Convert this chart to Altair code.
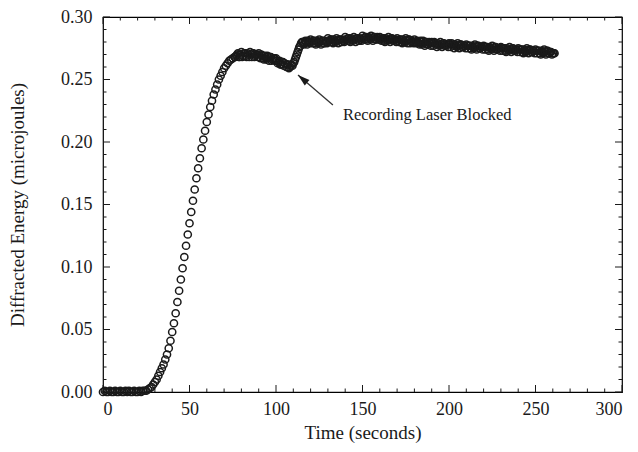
import altair as alt
import pandas as pd

# ---- data (one sample per second) ----
time_s = list(range(0, 262))
energy = [
    0.000, 0.001, 0.000, 0.000, 0.001, 0.000, 0.000, 0.001, 0.000, 0.000,
    0.001, 0.000, 0.000, 0.001, 0.000, 0.001, 0.000, 0.000, 0.001, 0.000,
    0.000, 0.001, 0.000, 0.001, 0.001, 0.001, 0.002, 0.003, 0.004, 0.006,
    0.008, 0.010, 0.013, 0.016, 0.019, 0.022, 0.026, 0.030, 0.035, 0.041,
    0.048, 0.055, 0.063, 0.072, 0.081, 0.090, 0.099, 0.108, 0.117, 0.126,
    0.135, 0.144, 0.153, 0.162, 0.171, 0.179, 0.187, 0.195, 0.202, 0.209,
    0.216, 0.222, 0.228, 0.233, 0.238, 0.242, 0.246, 0.250, 0.253, 0.256,
    0.259, 0.261, 0.263, 0.265, 0.266, 0.267, 0.268, 0.269, 0.271, 0.268,
    0.272, 0.269, 0.271, 0.268, 0.270, 0.272, 0.268, 0.271, 0.269, 0.270,
    0.271, 0.267, 0.269, 0.266, 0.268, 0.269, 0.265, 0.268, 0.266, 0.267,
    0.267, 0.263, 0.265, 0.262, 0.264, 0.263, 0.260, 0.262, 0.260, 0.262,
    0.263, 0.266, 0.270, 0.274, 0.277, 0.280, 0.278, 0.281, 0.278, 0.280,
    0.282, 0.279, 0.281, 0.278, 0.280, 0.282, 0.278, 0.281, 0.279, 0.280,
    0.283, 0.280, 0.282, 0.279, 0.281, 0.283, 0.279, 0.282, 0.280, 0.281,
    0.284, 0.281, 0.283, 0.280, 0.282, 0.284, 0.280, 0.283, 0.281, 0.282,
    0.285, 0.282, 0.284, 0.281, 0.283, 0.285, 0.281, 0.284, 0.282, 0.283,
    0.284, 0.281, 0.283, 0.280, 0.282, 0.284, 0.280, 0.283, 0.281, 0.282,
    0.283, 0.280, 0.282, 0.279, 0.281, 0.283, 0.279, 0.282, 0.280, 0.280,
    0.282, 0.279, 0.280, 0.278, 0.280, 0.281, 0.277, 0.280, 0.278, 0.279,
    0.280, 0.277, 0.279, 0.276, 0.278, 0.280, 0.276, 0.279, 0.277, 0.278,
    0.279, 0.276, 0.278, 0.275, 0.277, 0.279, 0.275, 0.278, 0.276, 0.277,
    0.278, 0.275, 0.277, 0.274, 0.276, 0.278, 0.274, 0.277, 0.275, 0.276,
    0.277, 0.274, 0.276, 0.273, 0.275, 0.277, 0.273, 0.276, 0.274, 0.275,
    0.276, 0.273, 0.275, 0.272, 0.274, 0.276, 0.272, 0.275, 0.273, 0.274,
    0.275, 0.272, 0.274, 0.271, 0.273, 0.275, 0.271, 0.274, 0.272, 0.273,
    0.274, 0.271, 0.273, 0.270, 0.272, 0.274, 0.270, 0.273, 0.271, 0.272,
    0.271, 0.271,
]
assert len(time_s) == len(energy)

# denser readings in the plateau band (half-second offsets, 76.5 ... 260.5 s)
time_half = [s + 0.5 for s in range(76, 261)]
energy_half = [
    0.268, 0.270, 0.268, 0.270,
    0.268, 0.271, 0.269, 0.271, 0.268, 0.270, 0.271, 0.268, 0.270, 0.268,
    0.268, 0.270, 0.267, 0.269, 0.266, 0.267, 0.268, 0.265, 0.267, 0.265,
    0.265, 0.264, 0.262, 0.264, 0.261, 0.262, 0.262, 0.259, 0.261, 0.261,
    0.264, 0.268, 0.272, 0.276, 0.279, 0.280, 0.279, 0.280, 0.281, 0.279,
    0.280, 0.281, 0.279, 0.281, 0.279, 0.280, 0.281, 0.279, 0.281, 0.279,
    0.281, 0.282, 0.280, 0.282, 0.280, 0.281, 0.282, 0.280, 0.282, 0.280,
    0.282, 0.283, 0.281, 0.283, 0.281, 0.282, 0.283, 0.281, 0.283, 0.281,
    0.283, 0.284, 0.282, 0.284, 0.282, 0.283, 0.284, 0.282, 0.284, 0.282,
    0.282, 0.283, 0.281, 0.283, 0.281, 0.282, 0.283, 0.281, 0.282, 0.280,
    0.281, 0.282, 0.280, 0.282, 0.280, 0.281, 0.282, 0.279, 0.281, 0.279,
    0.280, 0.281, 0.279, 0.281, 0.278, 0.279, 0.280, 0.278, 0.280, 0.277,
    0.279, 0.280, 0.278, 0.279, 0.277, 0.278, 0.279, 0.277, 0.278, 0.276,
    0.278, 0.279, 0.277, 0.278, 0.276, 0.277, 0.278, 0.276, 0.277, 0.275,
    0.277, 0.277, 0.275, 0.277, 0.275, 0.276, 0.277, 0.275, 0.276, 0.274,
    0.276, 0.276, 0.274, 0.276, 0.274, 0.275, 0.276, 0.274, 0.275, 0.273,
    0.275, 0.275, 0.273, 0.275, 0.273, 0.274, 0.275, 0.273, 0.274, 0.272,
    0.274, 0.274, 0.272, 0.274, 0.272, 0.273, 0.274, 0.272, 0.273, 0.271,
    0.273, 0.273, 0.271, 0.273, 0.271, 0.272, 0.273, 0.271, 0.272, 0.270,
    0.271,
]
assert len(time_half) == len(energy_half)

x_major = [0, 50, 100, 150, 200, 250, 300]
x_minor = [10, 20, 30, 40, 60, 70, 80, 90, 110, 120, 130, 140, 160, 170, 180,
           190, 210, 220, 230, 240, 260, 270, 280, 290]
y_major = [0.00, 0.05, 0.10, 0.15, 0.20, 0.25, 0.30]
y_minor = [0.01, 0.02, 0.03, 0.04, 0.06, 0.07, 0.08, 0.09, 0.11, 0.12, 0.13,
           0.14, 0.16, 0.17, 0.18, 0.19, 0.21, 0.22, 0.23, 0.24, 0.26, 0.27,
           0.28, 0.29]

annot_text = ["Recording Laser Blocked"]
annot_text_x = [138.7]
annot_text_y = [0.2216]
arrow_tail_x = [132.9]
arrow_tail_y = [0.2296]
arrow_tip_x = [112.7]
arrow_tip_y = [0.2536]

# ---- chart ----
W, H = 519, 375
FONT = "Liberation Serif"
INK = "#1a1a1a"
MAJ, MIN = 7, 3.5

xs = alt.Scale(domain=[0, 300], nice=False, zero=False)
ys = alt.Scale(domain=[0, 0.30], nice=False, zero=False)

df = pd.concat([
    pd.DataFrame({"t": time_s, "v": energy}),
    pd.DataFrame({"t": time_half, "v": energy_half}),
], ignore_index=True)

X_AXIS = alt.Axis(values=x_major, format="d", ticks=False, domain=False, grid=False,
                  labelPadding=8, title="Time (seconds)", titlePadding=5)
Y_AXIS = alt.Axis(values=y_major, format=".2f", ticks=False, domain=False, grid=False,
                  labelPadding=11, title="Diffracted Energy (microjoules)",
                  titlePadding=33)

points = alt.Chart(df).mark_point(
    shape="circle", filled=False, size=52, stroke=INK, strokeWidth=1.5, opacity=1
).encode(
    x=alt.X("t:Q", scale=xs, axis=X_AXIS),
    y=alt.Y("v:Q", scale=ys, axis=Y_AXIS),
)


def xticks(vals, length, top):
    d = pd.DataFrame({"t": vals})
    if top:
        yy = dict(y=alt.value(0), y2=alt.value(length))
    else:
        yy = dict(y=alt.value(H), y2=alt.value(H - length))
    return alt.Chart(d).mark_rule(color=INK, strokeWidth=1).encode(
        x=alt.X("t:Q", scale=xs, axis=X_AXIS), **yy)


def yticks(vals, length, right):
    d = pd.DataFrame({"v": vals})
    if right:
        xx = dict(x=alt.value(W), x2=alt.value(W - length))
    else:
        xx = dict(x=alt.value(0), x2=alt.value(length))
    return alt.Chart(d).mark_rule(color=INK, strokeWidth=1).encode(
        y=alt.Y("v:Q", scale=ys, axis=Y_AXIS), **xx)


tick_layers = [
    xticks(x_major, MAJ, False), xticks(x_minor, MIN, False),
    xticks(x_major, MAJ, True), xticks(x_minor, MIN, True),
    yticks(y_major, MAJ, False), yticks(y_minor, MIN, False),
    yticks(y_major, MAJ, True), yticks(y_minor, MIN, True),
]

adf = pd.DataFrame({
    "t": arrow_tail_x, "v": arrow_tail_y,
    "t2": arrow_tip_x, "v2": arrow_tip_y,
})
hdf = pd.DataFrame({"t": arrow_tip_x, "v": arrow_tip_y})
ldf = pd.DataFrame({"t": annot_text_x, "v": annot_text_y, "label": annot_text})

arrow_line = alt.Chart(adf).mark_rule(color="#333", strokeWidth=1.3).encode(
    x=alt.X("t:Q", scale=xs, axis=X_AXIS), y=alt.Y("v:Q", scale=ys, axis=Y_AXIS),
    x2="t2:Q", y2="v2:Q")

arrow_head = alt.Chart(hdf).mark_point(
    shape="M0,0 L0.6,2 L-0.6,2 Z", filled=True, size=144, color=INK,
    opacity=1, angle=310.6, strokeWidth=0
).encode(x=alt.X("t:Q", scale=xs, axis=X_AXIS), y=alt.Y("v:Q", scale=ys, axis=Y_AXIS))

label = alt.Chart(ldf).mark_text(
    align="left", baseline="middle", font=FONT, fontSize=16.5, color=INK
).encode(x=alt.X("t:Q", scale=xs, axis=X_AXIS), y=alt.Y("v:Q", scale=ys, axis=Y_AXIS),
         text="label:N")

chart = alt.layer(points, *tick_layers, arrow_line, arrow_head, label).properties(
    width=W, height=H,
    padding={"left": 95, "top": 9, "right": 5, "bottom": 52},
    autosize=alt.AutoSizeParams(type="none"),
    background="white",
).configure_view(
    stroke="black", strokeWidth=1.2
).configure_axis(
    labelFont=FONT, titleFont=FONT, labelFontSize=18, titleFontSize=19,
    labelColor=INK, titleColor=INK, titleFontWeight="normal",
)

chart.save("out.html", embed_options={"renderer": "svg", "actions": False})
